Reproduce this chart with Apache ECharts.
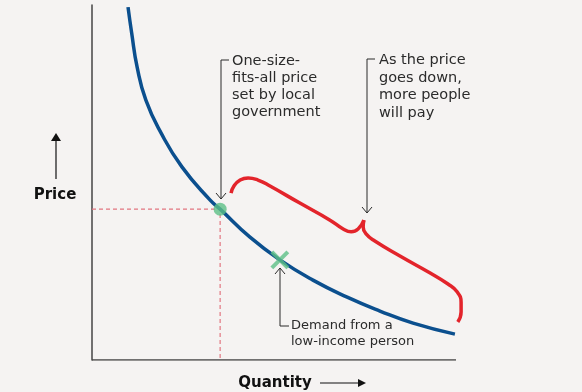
<!DOCTYPE html>
<html>
<head>
<meta charset="utf-8">
<script src="https://cdn.jsdelivr.net/npm/echarts@6/dist/echarts.min.js"></script>
<style>
  html, body { margin: 0; padding: 0; background: #f5f3f2; }
  #chart { width: 582px; height: 392px; }
</style>
</head>
<body>
<div id="chart"></div>
<script>
// Demand curve (quantity 0-100, price 0-100, arbitrary units)
const quantity = [9.9, 10.9, 12.4, 14.8, 19.0, 24.7, 32.4, 35.2, 43.4, 51.6, 60.7, 70.1, 79.1, 88.2, 99.7];
const price    = [99.4, 92.1, 82.5, 73.2, 63.9, 54.4, 45.1, 42.5, 34.6, 28.2, 22.5, 17.7, 13.8, 10.4, 7.3];

// One-size-fits-all price point and low-income demand point
const setPoint = [35.2, 42.5];
const lowIncomePoint = [51.6, 28.2];

// Axis extents (quantity axis drawn from 0 to 100)
const axisQ = [0, 100];

// Brace ("as the price goes down") – two halves meeting at the cusp
const braceLeftQ  = [38.2, 39.0, 40.7, 42.9, 45.6, 48.9, 57.1, 65.4, 69.0, 71.2, 73.1, 74.7];
const braceLeftP  = [47.0, 49.0, 50.7, 51.3, 50.7, 49.0, 44.2, 39.4, 36.9, 36.1, 36.9, 39.4];
const braceRightQ = [74.7, 74.5, 75.3, 77.7, 84.6, 92.9, 97.8, 100.3, 101.4, 101.4, 100.5];
const braceRightP = [39.4, 37.5, 35.5, 33.5, 29.3, 24.5, 21.4, 19.2, 16.3, 13.5, 10.7];

const zip = (a, b) => a.map((v, i) => [v, b[i]]);

const FONT = '"DejaVu Sans", sans-serif';
const INK = '#2b2b2b';
const RED = '#e3242b';
const GREEN = '#5cbf86';

const chart = echarts.init(document.getElementById('chart'), null, { renderer: 'canvas' });

const hidden = {
  axisTick: { show: false }, axisLabel: { show: false }, splitLine: { show: false }
};

chart.setOption({
  backgroundColor: '#f5f3f2',
  animation: false,
  // x extends a little past the axis line so the brace tail is inside the grid
  grid: { left: 92, right: 89.6, top: 5, bottom: 32 },
  xAxis: Object.assign({ type: 'value', min: 0, max: 110, axisLine: { show: false } }, hidden),
  yAxis: Object.assign({ type: 'value', min: 0, max: 100,
    axisLine: { show: true, lineStyle: { color: '#444', width: 1.5 } } }, hidden),
  series: [
    {
      type: 'line', name: 'xAxisLine', symbol: 'none', z: 1, silent: true,
      data: [[axisQ[0], 0], [axisQ[1], 0]],
      lineStyle: { color: '#444', width: 1.5 }
    },
    {
      type: 'line', name: 'guide', symbol: 'none', z: 1,
      data: [[0, setPoint[1]], [setPoint[0], setPoint[1]], [setPoint[0], 0]],
      lineStyle: { color: '#e27680', width: 1.2, type: [4, 3] }
    },
    {
      type: 'line', name: 'demand', symbol: 'none', smooth: 0.5, z: 2,
      data: zip(quantity, price),
      lineStyle: { color: '#0b4f8e', width: 3.5 }
    },
    {
      type: 'line', name: 'braceL', symbol: 'none', smooth: 0.5, clip: false, z: 2,
      data: zip(braceLeftQ, braceLeftP),
      lineStyle: { color: RED, width: 3.5, cap: 'butt' }
    },
    {
      type: 'line', name: 'braceR', symbol: 'none', smooth: 0.5, clip: false, z: 2,
      data: zip(braceRightQ, braceRightP),
      lineStyle: { color: RED, width: 3.5, cap: 'butt' }
    },
    {
      type: 'scatter', name: 'set', z: 3,
      data: [setPoint], symbol: 'circle', symbolSize: 13,
      itemStyle: { color: GREEN }
    },
    {
      type: 'scatter', name: 'low', z: 3,
      data: [lowIncomePoint], symbol: 'path://M0,0L10,10M10,0L0,10', symbolSize: 16,
      itemStyle: { color: 'none', borderColor: GREEN, borderWidth: 4 }
    }
  ],
  graphic: [
    // Annotation 1
    { type: 'polyline', shape: { points: [[229, 60], [221, 60], [221, 199]] }, style: { stroke: INK, lineWidth: 1, fill: null } },
    { type: 'polyline', shape: { points: [[216, 193], [221, 199], [226, 193]] }, style: { stroke: INK, lineWidth: 1, fill: null } },
    { type: 'text', style: { x: 232, y: 53, text: 'One-size-\nfits-all price\nset by local\ngovernment', font: '14.5px ' + FONT, fill: INK, lineHeight: 17, verticalAlign: 'top' } },
    // Annotation 2
    { type: 'polyline', shape: { points: [[375, 59], [367, 59], [367, 213]] }, style: { stroke: INK, lineWidth: 1, fill: null } },
    { type: 'polyline', shape: { points: [[362, 207], [367, 213], [372, 207]] }, style: { stroke: INK, lineWidth: 1, fill: null } },
    { type: 'text', style: { x: 379, y: 51.5, text: 'As the price\ngoes down,\nmore people\nwill pay', font: '14.5px ' + FONT, fill: INK, lineHeight: 17.5, verticalAlign: 'top' } },
    // Annotation 3
    { type: 'polyline', shape: { points: [[280, 268], [280, 326], [289, 326]] }, style: { stroke: INK, lineWidth: 1, fill: null } },
    { type: 'polyline', shape: { points: [[275, 274], [280, 268], [285, 274]] }, style: { stroke: INK, lineWidth: 1, fill: null } },
    { type: 'text', style: { x: 291, y: 318, text: 'Demand from a\nlow-income person', font: '13px ' + FONT, fill: INK, lineHeight: 16, verticalAlign: 'top' } },
    // Price axis title + arrow
    { type: 'text', style: { x: 55, y: 195, text: 'Price', font: 'bold 15px ' + FONT, fill: '#111', align: 'center', verticalAlign: 'middle' } },
    { type: 'line', shape: { x1: 56, y1: 179, x2: 56, y2: 139 }, style: { stroke: '#111', lineWidth: 1.2 } },
    { type: 'polygon', shape: { points: [[51, 141], [56, 133], [61, 141]] }, style: { fill: '#111' } },
    // Quantity axis title + arrow
    { type: 'text', style: { x: 275, y: 383, text: 'Quantity', font: 'bold 15px ' + FONT, fill: '#111', align: 'center', verticalAlign: 'middle' } },
    { type: 'line', shape: { x1: 320, y1: 383, x2: 360, y2: 383 }, style: { stroke: '#111', lineWidth: 1.2 } },
    { type: 'polygon', shape: { points: [[358, 379], [366, 383], [358, 387]] }, style: { fill: '#111' } }
  ]
});
</script>
</body>
</html>
